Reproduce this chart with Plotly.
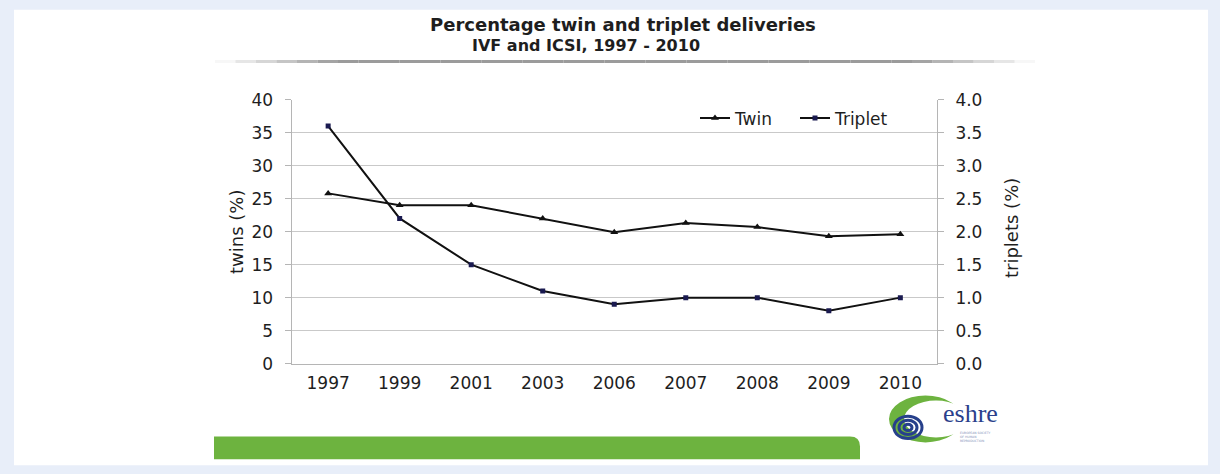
import plotly.graph_objects as go

# Delivery years and percentages
years = ["1997", "1999", "2001", "2003", "2006", "2007", "2008", "2009", "2010"]
twin_pct = [25.8, 24.0, 24.0, 22.0, 19.9, 21.3, 20.7, 19.3, 19.6]
triplet_pct = [3.6, 2.2, 1.5, 1.1, 0.9, 1.0, 1.0, 0.8, 1.0]

W, H = 1220, 474
FONT = "DejaVu Sans, Verdana, sans-serif"
TXT = "#1e1e1e"
PAGE_BG = "#e8eef9"

# the page adds a little vertical padding around the figure; lay out in page pixels
S_Y, O_Y = 0.9606, 9.35


def px(x):
    return x / W


def py(y):
    return 1 - ((y - O_Y) / S_Y) / H


fig = go.Figure()

fig.add_trace(go.Scatter(
    x=years, y=twin_pct, name="Twin", mode="lines+markers",
    line=dict(color="#111111", width=2),
    marker=dict(symbol="triangle-up", size=7, color="#111111"),
    yaxis="y",
))
fig.add_trace(go.Scatter(
    x=years, y=triplet_pct, name="Triplet", mode="lines+markers",
    line=dict(color="#111111", width=2),
    marker=dict(symbol="square", size=5, color="#1a1a50"),
    yaxis="y2",
))

x0, x1 = 291.5, 937
y0, y1 = 99.3, 364

shapes = []
# white card over the pale blue page
shapes.append(dict(type="rect", xref="paper", yref="paper",
                   x0=px(14), x1=px(1208), y0=py(466), y1=py(9),
                   fillcolor="white", line=dict(width=0), layer="below"))
# grey rule under the title, fading at both ends
n = 40
for i in range(n):
    a = px(215 + (1035 - 215) * i / n)
    b = px(215 + (1035 - 215) * (i + 1) / n)
    t = (i + 0.5) / n
    op = min(1.0, t / 0.15, (1 - t) / 0.15)
    shapes.append(dict(type="rect", xref="paper", yref="paper",
                       x0=a, x1=b, y0=py(62.5), y1=py(59.5),
                       fillcolor="#8a8a8a", opacity=max(op, 0.05) * 0.85,
                       line=dict(width=0), layer="below"))
# green footer bar with rounded right corner
bx0, bx1, by0, by1, r = 214, 860, 437, 460, 10
shapes.append(dict(
    type="path", xref="paper", yref="paper",
    path=(f"M {px(bx0)} {py(by1)} L {px(bx1)} {py(by1)} L {px(bx1)} {py(by0 + r)} "
          f"Q {px(bx1)} {py(by0)} {px(bx1 - r)} {py(by0)} L {px(bx0)} {py(by0)} Z"),
    fillcolor="#6db33f", line=dict(width=0), layer="below"))
# logo: green crescent
shapes.append(dict(type="circle", xref="paper", yref="paper",
                   x0=px(889), x1=px(962), y0=py(443), y1=py(396),
                   fillcolor="#6db33f", line=dict(width=0)))
shapes.append(dict(type="circle", xref="paper", yref="paper",
                   x0=px(904), x1=px(968), y0=py(438), y1=py(401),
                   fillcolor="white", line=dict(width=0)))
# logo: blue rings
cx, cy = 908, 428
for rr in (14, 9, 4):
    shapes.append(dict(type="circle", xref="paper", yref="paper",
                       x0=px(cx - rr), x1=px(cx + rr), y0=py(cy + rr * 0.8), y1=py(cy - rr * 0.8),
                       fillcolor="rgba(0,0,0,0)", line=dict(color="#27408b", width=3)))


def note(text, x, y, size, **kw):
    d = dict(text=text, x=px(x), y=py(y), xref="paper", yref="paper", showarrow=False,
             xanchor="center", yanchor="middle",
             font=dict(family=kw.pop("family", FONT), size=size, color=kw.pop("color", TXT)))
    d.update(kw)
    return d


annotations = [
    note("<b>Percentage twin and triplet deliveries</b>", 623, 24, 18),
    note("<b>IVF and ICSI, 1997 - 2010</b>", 586, 45, 16),
    note("twins (%)", 236, 232, 18, textangle=-90),
    note("triplets (%)", 1011, 228, 18, textangle=-90),
    note("eshre", 970, 414, 26, family="Liberation Serif, DejaVu Serif, serif", color="#2b3f8c"),
    note("EUROPEAN SOCIETY<br>OF HUMAN<br>REPRODUCTION", 958, 438, 3,
         color="#7f8fb8", xanchor="left", align="left"),
]

TICKS = dict(family=FONT, size=17, color=TXT)

fig.update_layout(
    width=W, height=H, autosize=False,
    margin=dict(l=0, r=0, t=0, b=0),
    paper_bgcolor=PAGE_BG, plot_bgcolor="white",
    shapes=shapes, annotations=annotations,
    font=dict(family=FONT, size=16, color=TXT),
    showlegend=True,
    legend=dict(orientation="h", x=px(695), y=py(118), xanchor="left", yanchor="middle",
                bgcolor="rgba(0,0,0,0)", font=dict(family=FONT, size=17, color=TXT),
                itemwidth=30, entrywidth=55, entrywidthmode="pixels", tracegroupgap=0),
    xaxis=dict(domain=[px(x0), px(x1)], type="category", showgrid=False,
               showline=True, linecolor="#b5b5b5", linewidth=1, ticks="",
               ticklabelstandoff=4, tickfont=TICKS, fixedrange=True),
    yaxis=dict(domain=[py(y1), py(y0)], range=[0, 40], dtick=5, tick0=0,
               showgrid=True, gridcolor="#c9c9c9", gridwidth=1,
               showline=True, linecolor="#b5b5b5", linewidth=1,
               ticks="outside", ticklen=6, tickcolor="#b5b5b5",
               ticklabelstandoff=8, zeroline=False, tickfont=TICKS),
    yaxis2=dict(overlaying="y", side="right", range=[0, 4], dtick=0.5, tick0=0,
                tickformat=".1f", showgrid=False,
                showline=True, linecolor="#b5b5b5", linewidth=1,
                ticks="outside", ticklen=6, tickcolor="#b5b5b5",
                ticklabelstandoff=8, zeroline=False, tickfont=TICKS),
)

fig.write_html(
    "out.html",
    post_script=("document.body.style.margin='0';document.body.style.overflow='hidden';"
                 f"document.body.style.background='{PAGE_BG}';"),
)
